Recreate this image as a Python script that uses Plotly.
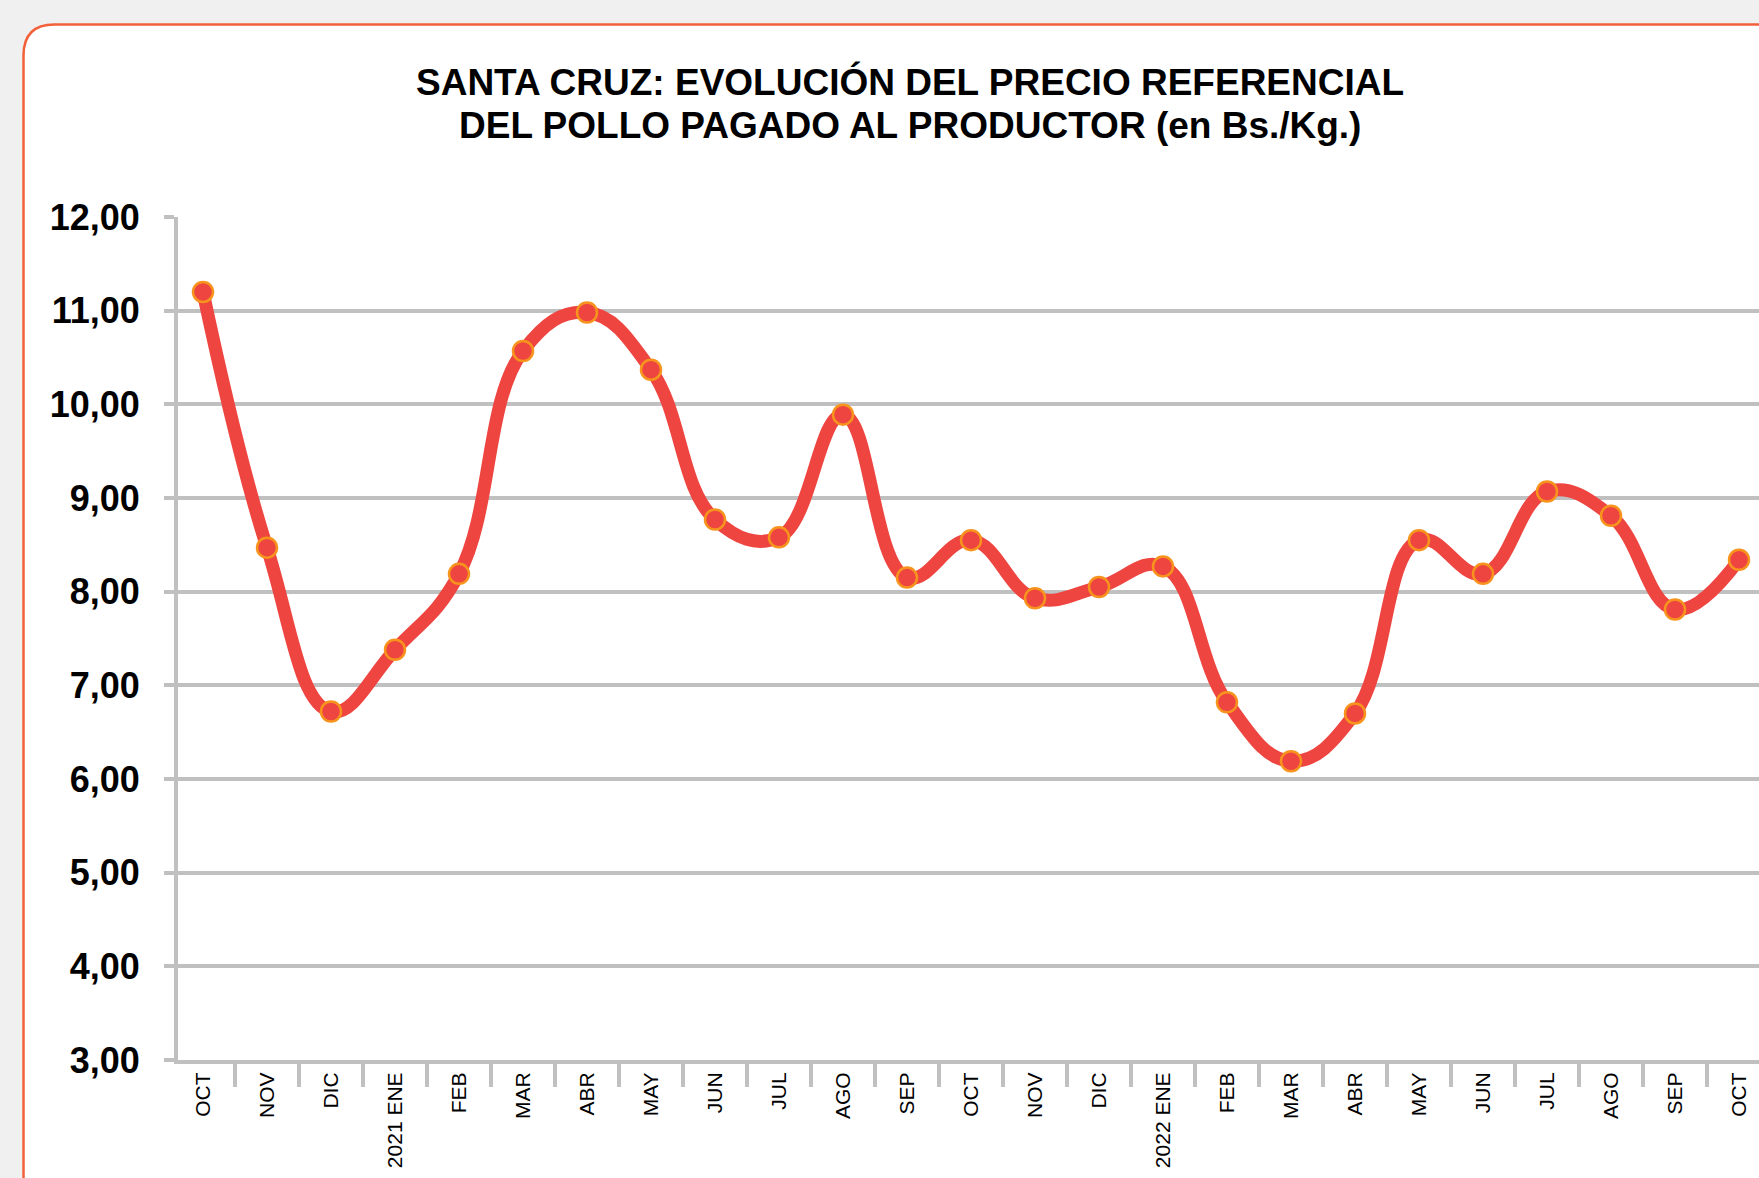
import plotly.graph_objects as go

# ---- data ----
months = ["OCT", "NOV", "DIC", "2021 ENE", "FEB", "MAR", "ABR", "MAY", "JUN", "JUL",
          "AGO", "SEP", "OCT", "NOV", "DIC", "2022 ENE", "FEB", "MAR", "ABR", "MAY",
          "JUN", "JUL", "AGO", "SEP", "OCT"]
prices = [11.20, 8.47, 6.72, 7.38, 8.19, 10.57, 10.98, 10.37, 8.77, 8.58,
          9.89, 8.15, 8.55, 7.93, 8.05, 8.27, 6.82, 6.19, 6.70, 8.55,
          8.19, 9.07, 8.81, 7.81, 8.34]
y_ticks = [3, 4, 5, 6, 7, 8, 9, 10, 11, 12]
title_lines = ["SANTA CRUZ: EVOLUCIÓN DEL PRECIO REFERENCIAL",
               "DEL POLLO PAGADO AL PRODUCTOR (en Bs./Kg.)"]

# ---- layout geometry (pixels) ----
W, H = 1759, 1178
L, T, B = 178, 217, 1060
PW, PH = W - L, B - T

def xp(px):
    return (px - L) / PW

def yp(py):
    return (B - py) / PH

idx = list(range(len(months)))
x0 = 203.0
step = 64.0
xrange = [(L - x0) / step, (W - x0) / step]

BOLD = "Liberation Sans, Arial, sans-serif"
REG = "Liberation Sans, Arial, sans-serif"
GRID = "#C0C0C0"

fig = go.Figure()

fig.add_trace(go.Scatter(
    x=idx, y=prices, mode="lines+markers",
    line=dict(color="#EE4540", width=13, shape="spline", smoothing=1.2),
    marker=dict(size=20, color="#EE4540", line=dict(color="#F7941D", width=2.5)),
    hoverinfo="skip", showlegend=False,
))
# invisible trace to anchor the boundary-tick axis
fig.add_trace(go.Scatter(
    x=[idx[0], idx[-1]], y=[prices[0], prices[-1]], xaxis="x2", mode="lines",
    line=dict(width=0), opacity=0, hoverinfo="skip", showlegend=False,
))

# rounded frame
fl, ft, r = 23.5, 24.5, 31
fr, fb = 1850, 1300
path = (f"M {xp(fl)},{yp(fb)} L {xp(fl)},{yp(ft + r)} "
        f"Q {xp(fl)},{yp(ft)} {xp(fl + r)},{yp(ft)} "
        f"L {xp(fr)},{yp(ft)} L {xp(fr)},{yp(fb)} Z")
fig.add_shape(type="path", path=path, xref="paper", yref="paper",
              fillcolor="white", line=dict(color="#F2603A", width=2.5), layer="below")

# title lines
for text, cy in zip(title_lines, [82.5, 125.5]):
    fig.add_annotation(text=text, xref="paper", yref="paper", x=xp(910), y=yp(cy),
                       xanchor="center", yanchor="middle", showarrow=False,
                       font=dict(family=BOLD, size=37, color="black", weight="bold"))

fig.update_layout(
    width=W, height=H,
    margin=dict(l=L, r=0, t=T, b=H - B, pad=0),
    paper_bgcolor="#F0F0F0", plot_bgcolor="rgba(0,0,0,0)",
    separators=",.",
    xaxis=dict(range=xrange, tickmode="array", tickvals=idx, ticktext=months,
               tickangle=-90, ticks="", showgrid=False, zeroline=False,
               showline=True, linecolor=GRID, linewidth=4,
               tickfont=dict(family=REG, size=21, color="black"),
               ticklabelstandoff=0),
    xaxis2=dict(range=xrange, overlaying="x", anchor="y", side="bottom",
                tickmode="array", tickvals=[i + 0.5 for i in idx[:-1]],
                ticks="outside", ticklen=26, tickwidth=4, tickcolor=GRID,
                showticklabels=False, showgrid=False, zeroline=False, showline=False),
    yaxis=dict(range=[3, 12], tickmode="array", tickvals=y_ticks, tickformat=".2f",
               showgrid=True, gridcolor=GRID, gridwidth=4, zeroline=False,
               showline=True, linecolor=GRID, linewidth=4,
               ticks="outside", ticklen=10, tickwidth=4, tickcolor=GRID,
               tickfont=dict(family=BOLD, size=36, color="black", weight="bold"),
               ticklabelstandoff=17),
)

fig.write_html(
    "out.html",
    config={"displayModeBar": False},
    post_script="document.body.style.margin='0';document.body.style.overflow='hidden';",
)
